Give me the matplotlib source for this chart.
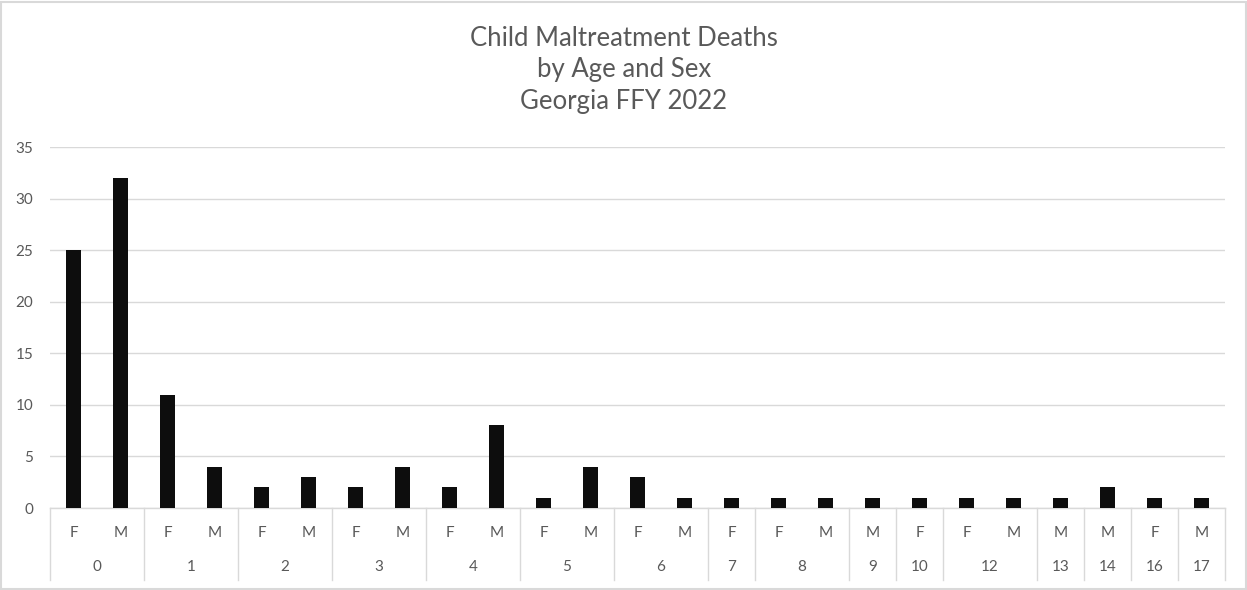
import numpy as np
import matplotlib.pyplot as plt
from matplotlib.transforms import blended_transform_factory

plt.rcParams['font.family'] = ['Lato', 'DejaVu Sans']

# deaths per age / sex combination (only combinations with at least one death)
ages = ["0", "0", "1", "1", "2", "2", "3", "3", "4", "4", "5", "5", "6", "6",
        "7", "8", "8", "9", "10", "12", "12", "13", "14", "16", "17"]
sexes = ["F", "M", "F", "M", "F", "M", "F", "M", "F", "M", "F", "M", "F", "M",
         "F", "F", "M", "M", "F", "F", "M", "M", "M", "F", "M"]
deaths = [25, 32, 11, 4, 2, 3, 2, 4, 2, 8, 1, 4, 3, 1,
          1, 1, 1, 1, 1, 1, 1, 1, 2, 1, 1]

W, H = 1247, 590
fig = plt.figure(figsize=(W / 100, H / 100), dpi=100)
ax = fig.add_axes([50 / W, (H - 508) / H, 1175 / W, (508 - 147) / H])

grey = "#595959"
line_grey = "#d9d9d9"

x = np.arange(len(deaths))
ax.bar(x, deaths, width=0.31, color="#0d0d0d", zorder=3)

ax.set_xlim(-0.5, len(deaths) - 0.5)
ax.set_ylim(0, 35)
ax.set_yticks(np.arange(0, 36, 5))
ax.yaxis.grid(True, color=line_grey, linewidth=1)
ax.set_axisbelow(True)
for s in ax.spines.values():
    s.set_visible(False)
ax.tick_params(axis="y", length=0, pad=12, labelsize=11, labelcolor=grey)
ax.set_xticks([])

# two-level category axis: sex on top, age below, separated by vertical lines
trans = blended_transform_factory(ax.transData, ax.transAxes)
ax_h = (508 - 147)
y_sex = -(533 - 508) / ax_h
y_age = -(567 - 508) / ax_h
y_bottom = -(580 - 508) / ax_h

for i, s in enumerate(sexes):
    ax.text(i, y_sex, s, transform=trans, ha="center", va="center",
            fontsize=11, color=grey)

bounds = [0]
for i in range(1, len(ages)):
    if ages[i] != ages[i - 1]:
        bounds.append(i)
bounds.append(len(ages))

for b in bounds:
    ax.plot([b - 0.5, b - 0.5], [0, y_bottom], transform=trans,
            color=line_grey, linewidth=1, clip_on=False)

for a, b in zip(bounds[:-1], bounds[1:]):
    ax.text((a + b - 1) / 2, y_age, ages[a], transform=trans, ha="center",
            va="center", fontsize=11, color=grey)

ax.plot([-0.5, len(deaths) - 0.5], [0, 0], transform=trans,
        color=line_grey, linewidth=1, clip_on=False, zorder=2)

fig.text(624 / W, 1 - 70 / H, "Child Maltreatment Deaths\nby Age and Sex\nGeorgia FFY 2022",
         ha="center", va="center", fontsize=18.5, color=grey, linespacing=1.3)

# light frame around the whole figure
fig.patches.append(plt.Rectangle((0.001, 0.001), 0.998, 0.996, transform=fig.transFigure,
                                 fill=False, edgecolor=line_grey, linewidth=1.5))

fig.savefig("out.png", dpi=100)
